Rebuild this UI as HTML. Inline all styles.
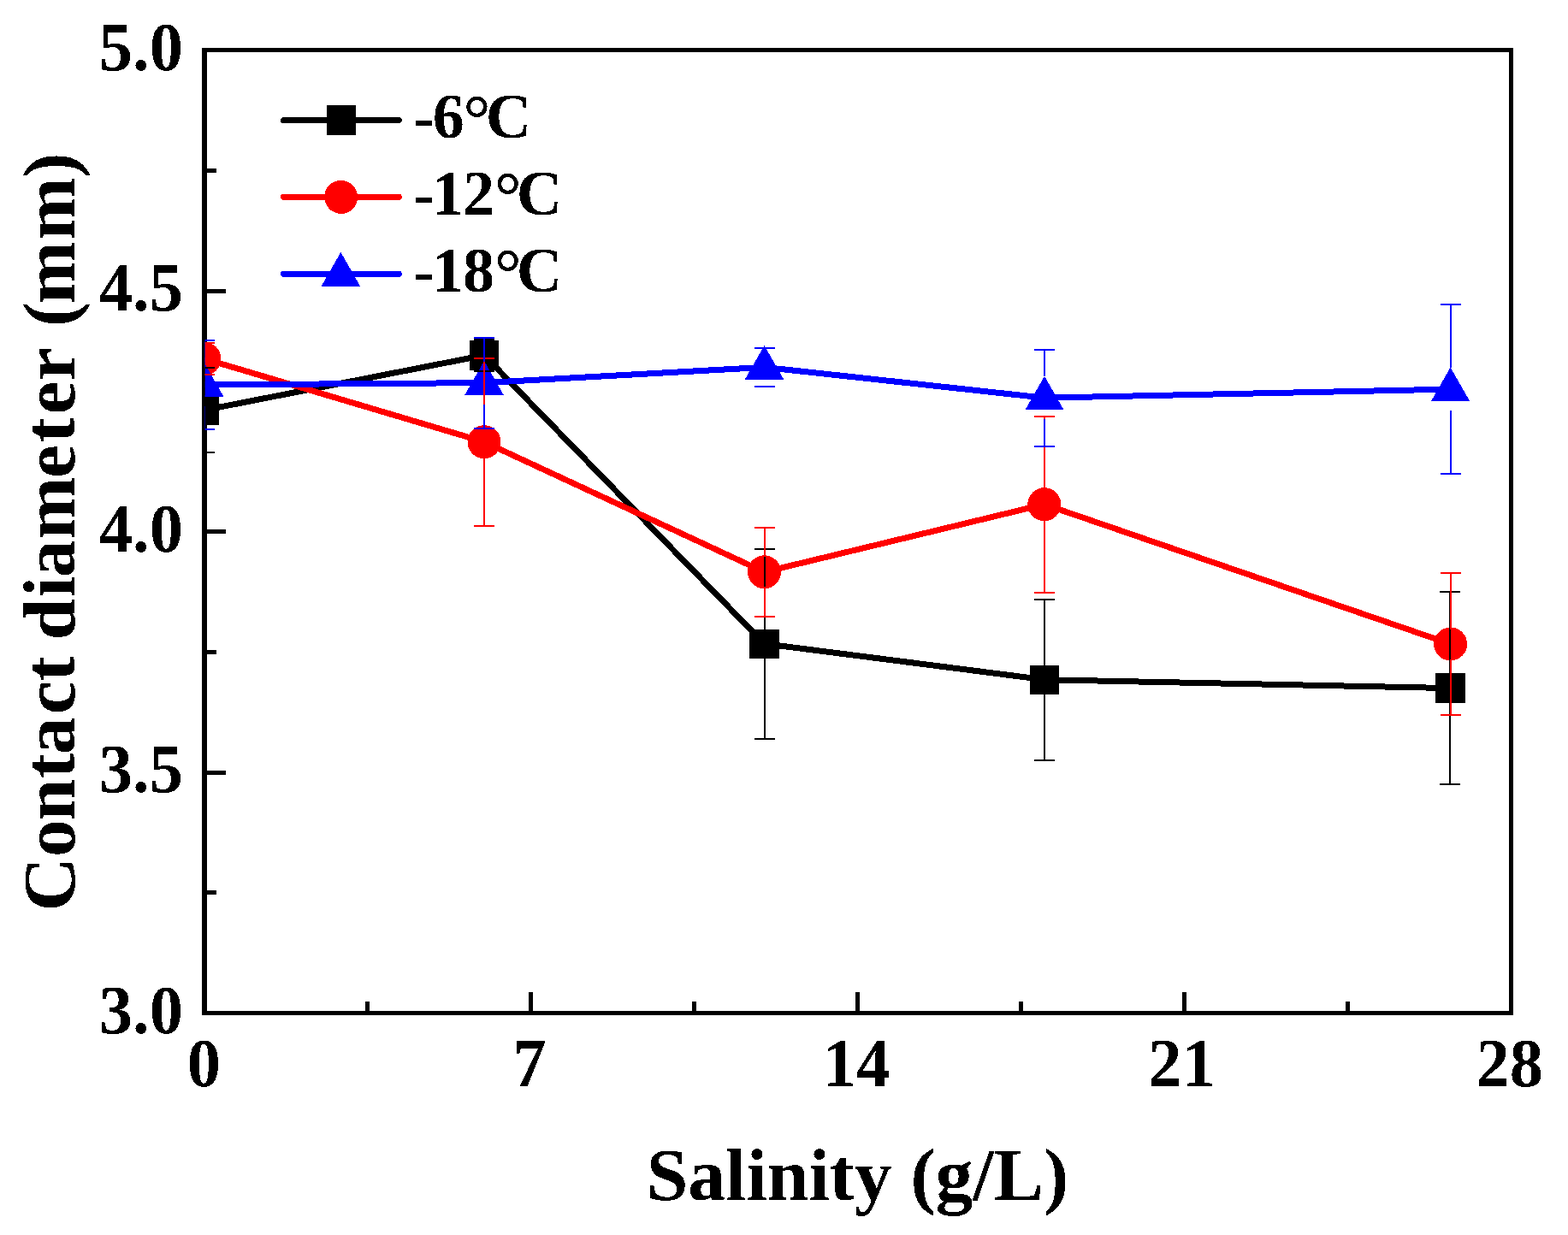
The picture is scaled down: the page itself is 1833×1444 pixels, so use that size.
<!DOCTYPE html>
<html><head><meta charset="utf-8"><title>Contact diameter vs Salinity</title>
<style>html,body{margin:0;padding:0;background:#fff;width:1833px;height:1444px;overflow:hidden}svg{display:block}text{filter:url(#aa)}</style>
</head><body>
<svg shape-rendering="crispEdges" width="1833" height="1444" viewBox="0 0 1833 1444"><rect width="1833" height="1444" fill="#fff"/><defs><filter id="aa" x="-5%" y="-5%" width="110%" height="110%" color-interpolation-filters="sRGB"><feComponentTransfer><feFuncA type="discrete" tableValues="0 1"/></feComponentTransfer></filter><clipPath id="pc"><rect x="239.5" y="58.5" width="1527" height="1126"/></clipPath></defs><path d="M239.0 1043.75H253.0 M239.0 903.00H264.0 M239.0 762.25H253.0 M239.0 621.50H264.0 M239.0 480.75H253.0 M239.0 340.00H264.0 M239.0 199.25H253.0 M429.94 1184.5V1170.5 M620.88 1184.5V1159.5 M811.81 1184.5V1170.5 M1002.75 1184.5V1159.5 M1193.69 1184.5V1170.5 M1384.62 1184.5V1159.5 M1575.56 1184.5V1170.5" stroke="#000" stroke-width="5" fill="none"/><path d="M236 56H1769V61H236Z M236 1182H1769V1187H236Z M236 56H242V1187H236Z M1764 56H1769V1187H1764Z" fill="#000"/><text transform="translate(0 1181.9) scale(1 1.012) translate(0 -1181.9)" x="214" y="1207.6" text-anchor="end" style="font-family:'Liberation Serif','Times New Roman',serif;font-weight:bold;font-size:78.5px">3.0</text><text transform="translate(0 900.4) scale(1 1.012) translate(0 -900.4)" x="214" y="926.1" text-anchor="end" style="font-family:'Liberation Serif','Times New Roman',serif;font-weight:bold;font-size:78.5px">3.5</text><text transform="translate(0 618.9) scale(1 1.012) translate(0 -618.9)" x="214" y="644.6" text-anchor="end" style="font-family:'Liberation Serif','Times New Roman',serif;font-weight:bold;font-size:78.5px">4.0</text><text transform="translate(0 337.4) scale(1 1.012) translate(0 -337.4)" x="214" y="363.1" text-anchor="end" style="font-family:'Liberation Serif','Times New Roman',serif;font-weight:bold;font-size:78.5px">4.5</text><text transform="translate(0 55.9) scale(1 1.012) translate(0 -55.9)" x="214" y="81.6" text-anchor="end" style="font-family:'Liberation Serif','Times New Roman',serif;font-weight:bold;font-size:78.5px">5.0</text><text transform="translate(0 1244.5) scale(1 1.012) translate(0 -1244.5)" x="238.5" y="1270" text-anchor="middle" style="font-family:'Liberation Serif','Times New Roman',serif;font-weight:bold;font-size:78.5px">0</text><text transform="translate(0 1244.5) scale(1 1.012) translate(0 -1244.5)" x="618.9" y="1270" text-anchor="middle" style="font-family:'Liberation Serif','Times New Roman',serif;font-weight:bold;font-size:78.5px">7</text><text transform="translate(0 1244.5) scale(1 1.012) translate(0 -1244.5)" x="1001.1" y="1270" text-anchor="middle" style="font-family:'Liberation Serif','Times New Roman',serif;font-weight:bold;font-size:78.5px">14</text><text transform="translate(0 1244.5) scale(1 1.012) translate(0 -1244.5)" x="1381.5" y="1270" text-anchor="middle" style="font-family:'Liberation Serif','Times New Roman',serif;font-weight:bold;font-size:78.5px">21</text><text transform="translate(0 1244.5) scale(1 1.012) translate(0 -1244.5)" x="1764.8" y="1270" text-anchor="middle" style="font-family:'Liberation Serif','Times New Roman',serif;font-weight:bold;font-size:78.5px">28</text><text x="755.7" y="1403" style="font-family:'Liberation Serif','Times New Roman',serif;font-weight:bold;font-size:87.5px">Salinity (g/L)</text><text transform="translate(87.0 1070.0) rotate(-90)" x="4.4 68.0 110.6 160.1 187.8 234.8 273.8 302.9 321.6 371.7 395.1 439.3 511.1 552.5 585.4 624.9 663.8 688.1 715.1 789.6 862.2" y="0" style="font-family:'Liberation Serif','Times New Roman',serif;font-weight:bold;font-size:87.5px">Contact diameter (mm)</text><g clip-path="url(#pc)"><polyline points="239,479.5 566,415.4 893.5,752.7 1221,794.7 1695.3,804.6" fill="none" stroke="#000" stroke-width="7" stroke-linejoin="miter"/><rect x="221.8" y="462.3" width="34.4" height="34.4" fill="#000"/><rect x="548.8" y="398.2" width="34.4" height="34.4" fill="#000"/><rect x="876.3" y="735.5" width="34.4" height="34.4" fill="#000"/><rect x="1203.8" y="777.5" width="34.4" height="34.4" fill="#000"/><rect x="1678.1" y="787.4" width="34.4" height="34.4" fill="#000"/><polyline points="239,419.5 566,516.7 893.5,668.8 1220.8,589.7 1695.6,753" fill="none" stroke="#f00" stroke-width="7" stroke-linejoin="miter"/><circle cx="239" cy="419.5" r="19.5" fill="#f00"/><circle cx="566" cy="516.7" r="19.5" fill="#f00"/><circle cx="893.5" cy="668.8" r="19.5" fill="#f00"/><circle cx="1220.8" cy="589.7" r="19.5" fill="#f00"/><circle cx="1695.6" cy="753" r="19.5" fill="#f00"/><polyline points="239,450 566,447.6 893.5,429.4 1221,465.2 1695.6,455.1" fill="none" stroke="#00f" stroke-width="7" stroke-linejoin="miter"/><path d="M239.0 424.5L261.7 464.2L216.3 464.2Z" fill="#00f"/><path d="M566.0 422.1L588.7 461.8L543.3 461.8Z" fill="#00f"/><path d="M893.5 403.9L916.2 443.6L870.8 443.6Z" fill="#00f"/><path d="M1221.0 439.7L1243.7 479.4L1198.3 479.4Z" fill="#00f"/><path d="M1695.6 429.6L1718.3 469.3L1672.9 469.3Z" fill="#00f"/><path d="M227.0 430.0H251.0M227.0 529.0H251.0M239.0 430.0V462.3M239.0 496.7V529.0M554.0 397.2H578.0M554.0 433.6H578.0M566.0 397.2V398.2M566.0 432.6V433.6M881.5 641.7H905.5M881.5 863.7H905.5M893.5 641.7V735.5M893.5 769.9V863.7M1209.0 700.7H1233.0M1209.0 888.7H1233.0M1221.0 700.7V777.5M1221.0 811.9V888.7M1683.3 692.1H1707.3M1683.3 917.1H1707.3M1695.3 692.1V787.4M1695.3 821.8V917.1" stroke="#000" stroke-width="2" fill="none"/><path d="M227.0 401.0H251.0M227.0 438.0H251.0M239.0 401.0V402.0M239.0 437.0V438.0M554.0 418.5H578.0M554.0 614.9H578.0M566.0 418.5V499.2M566.0 534.2V614.9M881.5 616.8H905.5M881.5 720.8H905.5M893.5 616.8V651.3M893.5 686.3V720.8M1208.8 486.7H1232.8M1208.8 692.7H1232.8M1220.8 486.7V572.2M1220.8 607.2V692.7M1683.6 669.6H1707.6M1683.6 836.4H1707.6M1695.6 669.6V735.5M1695.6 770.5V836.4" stroke="#f00" stroke-width="2" fill="none"/><path d="M227.0 398.0H251.0M227.0 502.0H251.0M239.0 398.0V425.0M239.0 475.0V502.0M554.0 394.6H578.0M554.0 500.6H578.0M566.0 394.6V422.6M566.0 472.6V500.6M881.5 406.9H905.5M881.5 451.9H905.5M1209.0 408.7H1233.0M1209.0 521.7H1233.0M1221.0 408.7V440.2M1221.0 490.2V521.7M1683.6 356.4H1707.6M1683.6 553.8H1707.6M1695.6 356.4V430.1M1695.6 480.1V553.8" stroke="#00f" stroke-width="2" fill="none"/></g><line x1="331.5" y1="140.5" x2="466.4" y2="140.5" stroke="#000" stroke-width="7" stroke-linecap="round"/><rect x="381.8" y="123.3" width="34.4" height="34.4" fill="#000"/><text style="font-family:'Liberation Serif','Times New Roman',serif;font-weight:bold;font-size:74px"><tspan x="483.6" y="160.8">-</tspan><tspan x="505.7" y="160.8">6</tspan><tspan x="541.6" y="165.8" style="font-size:80px">°</tspan><tspan x="567.75" y="160.8">C</tspan></text><line x1="331.5" y1="230.4" x2="466.4" y2="230.4" stroke="#f00" stroke-width="7" stroke-linecap="round"/><circle cx="398.7" cy="230.4" r="19.5" fill="#f00"/><text style="font-family:'Liberation Serif','Times New Roman',serif;font-weight:bold;font-size:74px"><tspan x="483.6" y="250.8">-</tspan><tspan x="504.9" y="250.8">1</tspan><tspan x="541.1" y="250.8">2</tspan><tspan x="577.8" y="255.8" style="font-size:80px">°</tspan><tspan x="603.7" y="250.8">C</tspan></text><line x1="331.5" y1="320.4" x2="466.4" y2="320.4" stroke="#00f" stroke-width="7" stroke-linecap="round"/><path d="M398.4 294.9L421.1 334.6L375.7 334.6Z" fill="#00f"/><text style="font-family:'Liberation Serif','Times New Roman',serif;font-weight:bold;font-size:74px"><tspan x="483.6" y="340.8">-</tspan><tspan x="504.9" y="340.8">1</tspan><tspan x="541.1" y="340.8">8</tspan><tspan x="577.8" y="345.8" style="font-size:80px">°</tspan><tspan x="603.7" y="340.8">C</tspan></text></svg>
</body></html>
